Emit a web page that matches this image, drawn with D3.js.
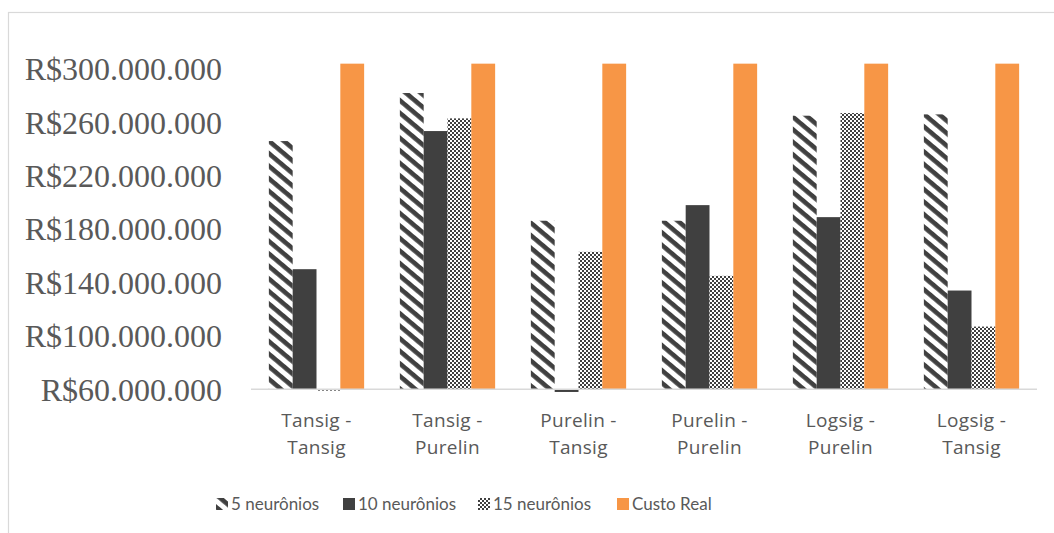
<!DOCTYPE html>
<html><head><meta charset="utf-8">
<script src="https://cdn.jsdelivr.net/npm/d3@7"></script>
<style>body{margin:0;background:#fff}svg{display:block}</style>
</head><body>
<script>
const categories = [["Tansig -","Tansig"],["Tansig -","Purelin"],["Purelin -","Tansig"],["Purelin -","Purelin"],["Logsig -","Purelin"],["Logsig -","Tansig"]];
const seriesNames = ["5 neurônios","10 neurônios","15 neurônios","Custo Real"];
const neur5  = [246, 282, 186.3, 186.3, 265, 266];
const neur10 = [150, 253.5, 58, 198, 189, 134];
const neur15 = [59, 263, 163, 145, 267, 107];
const custoReal = [304, 304, 304, 304, 304, 304];
const yTicks = [60,100,140,180,220,260,300];

const W = 1054, H = 533;
const svg = d3.select("body").append("svg").attr("width", W).attr("height", H);
const defs = svg.append("defs");
const dark = "#404040", orange = "#F79646", axisGray = "#d9d9d9", textGray = "#595959";

const hatch = defs.append("pattern").attr("id","hatch").attr("patternUnits","userSpaceOnUse")
  .attr("width",20).attr("height",9.6).attr("patternTransform","rotate(40)");
hatch.append("rect").attr("width",20).attr("height",9.6).attr("fill","#fff");
hatch.append("rect").attr("y",0).attr("width",20).attr("height",4.6).attr("fill",dark);
const checker = defs.append("pattern").attr("id","checker").attr("patternUnits","userSpaceOnUse").attr("width",4).attr("height",4);
checker.append("rect").attr("width",4).attr("height",4).attr("fill","#fff");
checker.append("rect").attr("width",2).attr("height",2).attr("fill",dark);
checker.append("rect").attr("x",2).attr("y",2).attr("width",2).attr("height",2).attr("fill",dark);
const fills = ["url(#hatch)", dark, "url(#checker)", orange];

svg.append("rect").attr("x",8.5).attr("y",12.5).attr("width",1100).attr("height",600)
  .attr("fill","none").attr("stroke",axisGray).attr("stroke-width",1.2);

const series = [neur5, neur10, neur15, custoReal];
const x0 = d3.scaleBand().domain(d3.range(categories.length)).range([251, 1037]).paddingInner(0).paddingOuter(0);
const x1 = d3.scaleBand().domain(d3.range(series.length)).range([0, x0.bandwidth()]).paddingInner(0).paddingOuter(0.75);
const y = d3.scaleLinear().domain([60, 300]).range([389.3, 69]);

const g = svg.append("g");
categories.forEach((c, i) => {
  series.forEach((s, j) => {
    const v = s[i];
    const y0 = y(60), yv = y(v);
    g.append("rect")
      .attr("x", x0(i) + x1(j))
      .attr("y", Math.min(y0, yv))
      .attr("width", x1.bandwidth())
      .attr("height", Math.abs(y0 - yv))
      .attr("fill", fills[j]);
  });
});

// x axis line
svg.append("line").attr("x1",251).attr("x2",1037).attr("y1",y(60)).attr("y2",y(60))
  .attr("stroke",axisGray).attr("stroke-width",1.5);

// y labels
svg.append("g").selectAll("text").data(yTicks).join("text")
  .attr("x", 222).attr("y", d => y(d)).attr("dy","0.35em")
  .attr("text-anchor","end")
  .attr("font-family","'Liberation Serif','Times New Roman',serif")
  .attr("font-size",32).attr("fill",textGray)
  .text(d => "R$" + d3.format(",")(d*1e6).replace(/,/g,"."));

// x labels
const xl = svg.append("g").selectAll("text").data(categories).join("text")
  .attr("text-anchor","middle")
  .attr("font-family","'Open Sans', Lato, sans-serif")
  .attr("font-size",19).attr("letter-spacing","0.3px").attr("fill",textGray);
xl.each(function(d, i){
  const t = d3.select(this);
  d.forEach((line, k) => {
    t.append("tspan").attr("x", x0(i) + x0.bandwidth()/2).attr("y", 427 + k*27).text(line);
  });
});

// legend
const legX = [216, 343, 478, 617];
const leg = svg.append("g").selectAll("g").data(seriesNames).join("g")
  .attr("transform",(d,i)=>`translate(${legX[i]},504)`);
leg.append("rect").attr("x",0).attr("y",-6).attr("width",12).attr("height",12)
  .attr("fill",(d,i)=>fills[i]);
leg.append("text").attr("x",15).attr("y",6)
  .attr("font-family","Lato, 'Open Sans', sans-serif").attr("font-size",17).attr("fill",textGray)
  .text(d=>d);
</script>
</body></html>
